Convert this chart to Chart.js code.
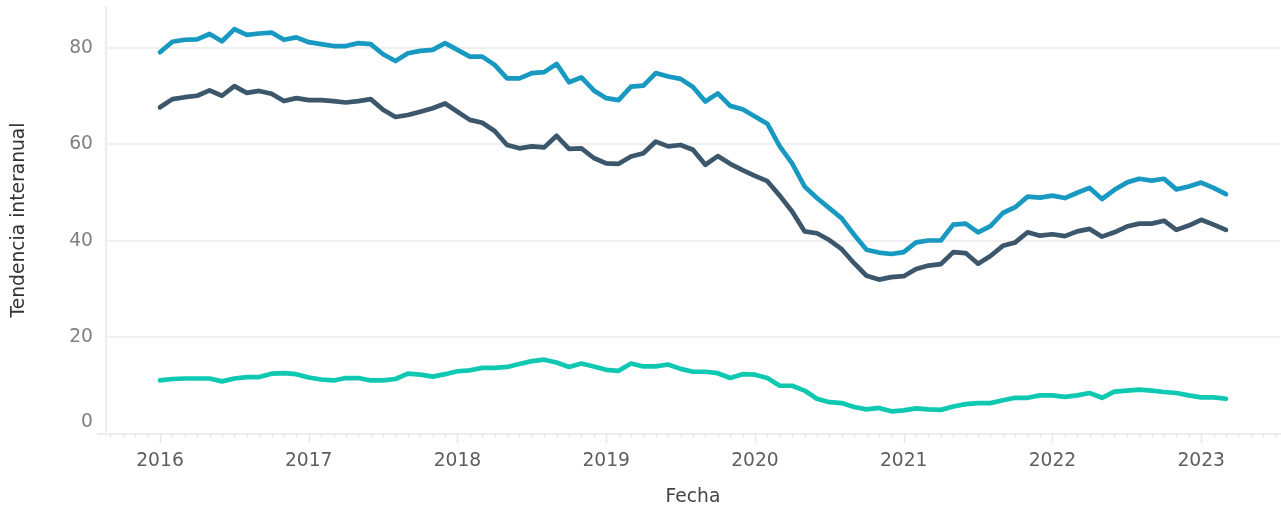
<!DOCTYPE html>
<html>
<head>
<meta charset="utf-8">
<script src="https://cdn.jsdelivr.net/npm/chart.js@4"></script>
<style>
  html, body { margin: 0; padding: 0; background: #fff; }
  #wrap { width: 1281px; height: 508px; }
</style>
</head>
<body>
<div id="wrap"><canvas id="chart" width="1281" height="508"></canvas></div>
<script>
// serie mensual, ene 2016 - mar 2023
const startYear = 2016;
const yearTicks = [2016, 2017, 2018, 2019, 2020, 2021, 2022, 2023];
const yTicks = [0, 20, 40, 60, 80];

const serieAlta = [
  79.1, 81.3, 81.7, 81.8, 82.9, 81.4, 83.9, 82.7, 83.0, 83.2, 81.7, 82.2,
  81.2, 80.8, 80.4, 80.4, 81.0, 80.8, 78.7, 77.3, 78.9, 79.4, 79.6, 81.0,
  79.6, 78.2, 78.2, 76.5, 73.7, 73.7, 74.8, 75.0, 76.7, 72.9, 73.9, 71.2,
  69.6, 69.2, 72.0, 72.2, 74.8, 74.1, 73.6, 71.9, 68.9, 70.6, 68.0, 67.3,
  65.8, 64.3, 59.6, 56.1, 51.3, 48.9, 46.8, 44.7, 41.3, 38.2, 37.6, 37.3,
  37.7, 39.7, 40.1, 40.1, 43.4, 43.6, 41.8, 43.1, 45.8, 47.0, 49.2, 49.0,
  49.4, 48.9, 50.0, 51.0, 48.7, 50.6, 52.1, 52.9, 52.5, 52.9, 50.7, 51.3,
  52.1, 51.0, 49.7
];
const serieMedia = [
  67.7, 69.4, 69.8, 70.1, 71.2, 70.1, 72.1, 70.7, 71.1, 70.5, 69.0, 69.6,
  69.2, 69.2, 69.0, 68.7, 69.0, 69.4, 67.2, 65.7, 66.1, 66.8, 67.5, 68.5,
  66.8, 65.1, 64.5, 62.8, 59.9, 59.2, 59.6, 59.4, 61.8, 59.1, 59.2, 57.2,
  56.1, 56.0, 57.5, 58.2, 60.6, 59.6, 59.9, 58.9, 55.8, 57.6, 56.0, 54.7,
  53.5, 52.4, 49.4, 46.1, 42.0, 41.6, 40.2, 38.3, 35.4, 32.8, 32.0, 32.5,
  32.7, 34.2, 34.9, 35.2, 37.7, 37.5, 35.3, 36.9, 39.0, 39.7, 41.8, 41.1,
  41.4, 41.0, 42.0, 42.5, 40.9, 41.8, 43.0, 43.6, 43.6, 44.2, 42.3, 43.2,
  44.4, 43.4, 42.3
];
const serieBaja = [
  11.1, 11.4, 11.5, 11.5, 11.5, 10.9, 11.5, 11.8, 11.8, 12.5, 12.6, 12.4,
  11.7, 11.3, 11.1, 11.6, 11.6, 11.1, 11.1, 11.4, 12.5, 12.3, 11.9, 12.4,
  13.0, 13.2, 13.7, 13.7, 13.9, 14.5, 15.1, 15.4, 14.8, 13.9, 14.6, 14.0,
  13.3, 13.1, 14.6, 14.0, 14.0, 14.4, 13.5, 12.9, 12.9, 12.6, 11.6, 12.4,
  12.3, 11.6, 10.0, 10.0, 9.0, 7.3, 6.6, 6.4, 5.6, 5.1, 5.4, 4.7,
  4.9, 5.3, 5.1, 5.0, 5.7, 6.2, 6.4, 6.4, 7.0, 7.5, 7.5, 8.0,
  8.0, 7.7, 8.0, 8.5, 7.5, 8.8, 9.0, 9.2, 9.0, 8.7, 8.5, 8.0,
  7.6, 7.6, 7.3
];

const fechas = serieAlta.map((v, i) => startYear + i / 12);

function toPoints(vals) {
  return vals.map((v, i) => ({ x: fechas[i], y: v }));
}

const fontFamily = "'DejaVu Sans', sans-serif";
const fontSize = 18.7;

function noPadding(scale) {
  scale.paddingTop = 0;
  scale.paddingBottom = 0;
  scale.paddingLeft = 0;
  scale.paddingRight = 0;
}

// ejes, marcas mensuales y el "0" desplazado
const axisPlugin = {
  id: "axisPlugin",
  beforeDatasetsDraw(chart) {
    const ctx = chart.ctx;
    const x = chart.scales.x;
    const y = chart.scales.y;
    const y0 = y.getPixelForValue(0);
    ctx.save();
    ctx.strokeStyle = "#eeeeee";
    ctx.lineWidth = 2;
    ctx.beginPath();
    ctx.moveTo(chart.chartArea.left, chart.chartArea.top);
    ctx.lineTo(chart.chartArea.left, y0);
    ctx.moveTo(97, y0);
    ctx.lineTo(chart.width, y0);
    ctx.stroke();

    ctx.lineWidth = 1.5;
    ctx.strokeStyle = "#e6e6e6";
    for (let m = -5; m <= 90; m++) {
      const v = startYear + m / 12;
      const px = Math.round(x.getPixelForValue(v)) + 0.5;
      if (px < chart.chartArea.left || px > chart.width) continue;
      const len = m % 12 === 0 ? 9 : 3.5;
      ctx.beginPath();
      ctx.moveTo(px, y0);
      ctx.lineTo(px, y0 + len);
      ctx.stroke();
    }

    ctx.fillStyle = "#7f7f7f";
    ctx.font = fontSize + "px " + fontFamily;
    ctx.textAlign = "right";
    ctx.textBaseline = "middle";
    ctx.fillText("0", chart.chartArea.left - 13, y0 - 12);
    ctx.restore();
  }
};

const ctx = document.getElementById("chart").getContext("2d");
new Chart(ctx, {
  type: "line",
  data: {
    datasets: [
      {
        label: "alta",
        data: toPoints(serieAlta),
        borderColor: "#1799c1",
        borderWidth: 4.7
      },
      {
        label: "media",
        data: toPoints(serieMedia),
        borderColor: "#3c566b",
        borderWidth: 4.7
      },
      {
        label: "baja",
        data: toPoints(serieBaja),
        borderColor: "#0fc8b2",
        borderWidth: 4.7
      }
    ]
  },
  options: {
    responsive: false,
    animation: false,
    layout: { padding: { top: 6, right: 1, left: 0, bottom: 0 } },
    elements: {
      point: { radius: 0 },
      line: { tension: 0, borderJoinStyle: "round", borderCapStyle: "round" }
    },
    plugins: {
      legend: { display: false },
      tooltip: { enabled: false }
    },
    scales: {
      x: {
        type: "linear",
        min: 2015.637,
        max: 2023.53,
        afterFit(scale) { scale.height = 74; noPadding(scale); },
        afterBuildTicks(scale) {
          scale.ticks = yearTicks.map(v => ({ value: v }));
        },
        grid: { display: false, drawTicks: false },
        border: { display: false },
        ticks: {
          padding: 16,
          color: "#5e5e5e",
          font: { family: fontFamily, size: fontSize },
          maxRotation: 0,
          autoSkip: false,
          callback: v => String(v)
        },
        title: {
          display: true,
          text: "Fecha",
          color: "#444444",
          font: { family: fontFamily, size: fontSize },
          padding: { top: 0, bottom: 0 }
        }
      },
      y: {
        min: 0,
        max: 88.7,
        afterFit(scale) { scale.width = 106; noPadding(scale); },
        afterBuildTicks(scale) {
          scale.ticks = yTicks.map(v => ({ value: v }));
        },
        grid: { color: "#efefef", lineWidth: 2, drawTicks: false },
        border: { display: false },
        ticks: {
          padding: 13,
          color: "#7f7f7f",
          font: { family: fontFamily, size: fontSize },
          callback: v => (v === 0 ? "" : String(v))
        },
        title: {
          display: true,
          text: "Tendencia interanual",
          color: "#333333",
          font: { family: fontFamily, size: fontSize },
          padding: { top: 8, bottom: 0 }
        }
      }
    }
  },
  plugins: [axisPlugin]
});
</script>
</body>
</html>
